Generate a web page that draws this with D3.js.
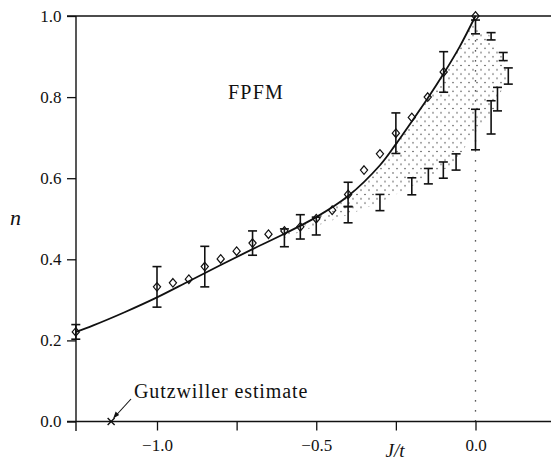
<!DOCTYPE html>
<html>
<head>
<meta charset="utf-8">
<script src="https://cdn.jsdelivr.net/npm/d3@7"></script>
<style>
  body { margin: 0; background: #fff; }
</style>
</head>
<body>
<div id="chart"></div>
<script>
// n versus J/t phase diagram, with FPFM region shaded

const serif = "'Liberation Serif', 'DejaVu Serif', 'Times New Roman', serif";

// smooth curve through the diamonds
const curveJ = [-1.255, -1.2, -1.1, -1.0, -0.9, -0.8, -0.7, -0.6, -0.5, -0.4, -0.3, -0.25, -0.2, -0.15, -0.1, -0.05, 0.0];
const curveN = [0.221, 0.237, 0.270, 0.306, 0.346, 0.386, 0.425, 0.463, 0.504, 0.556, 0.632, 0.684, 0.740, 0.797, 0.858, 0.924, 1.0];

// diamonds (0 = no error bar)
const diamondJ = [-1.255, -1.0, -0.95, -0.9, -0.85, -0.8, -0.75, -0.7, -0.65, -0.6, -0.55, -0.5, -0.45, -0.4, -0.35, -0.3, -0.25, -0.2, -0.15, -0.1, 0.0];
const diamondN = [0.221, 0.332, 0.342, 0.351, 0.382, 0.401, 0.420, 0.440, 0.462, 0.470, 0.480, 0.500, 0.521, 0.560, 0.620, 0.660, 0.711, 0.750, 0.800, 0.862, 1.0];
const diamondErr = [0.018, 0.05, 0, 0, 0.05, 0, 0, 0.03, 0, 0, 0.03, 0, 0, 0.03, 0, 0, 0.05, 0, 0, 0.05, 0];

// lower boundary points (error bars only), listed along the edge of the shaded area
const lowerJ = [0.0, 0.049, 0.087, 0.103, 0.069, 0.049, 0.0, -0.061, -0.101, -0.148, -0.2, -0.3, -0.4, -0.5, -0.6];
const lowerN = [0.973, 0.95, 0.90, 0.852, 0.795, 0.75, 0.72, 0.64, 0.62, 0.605, 0.58, 0.54, 0.51, 0.482, 0.453];
const lowerErr = [0.017, 0.009, 0.01, 0.02, 0.029, 0.041, 0.05, 0.02, 0.02, 0.019, 0.021, 0.02, 0.02, 0.022, 0.022];

const gutzJ = -1.144;

const xTicks = [-1.0, -0.75, -0.5, -0.25, 0.0];
const xLabels = [-1.0, -0.5, 0.0];
const yTicks = [0, 0.2, 0.4, 0.6, 0.8, 1.0];

const width = 551;
const height = 461;

const x = d3.scaleLinear().domain([-1.0, 0.0]).range([157, 475.5]);
const y = d3.scaleLinear().domain([0, 1]).range([421.5, 16]);

const svg = d3.select("#chart").append("svg")
    .attr("width", width)
    .attr("height", height)
    .style("font-family", serif);

// dot pattern for the shaded region
const pat = svg.append("defs").append("pattern")
    .attr("id", "dots")
    .attr("patternUnits", "userSpaceOnUse")
    .attr("width", 8).attr("height", 8.6);
pat.append("circle").attr("cx", 1).attr("cy", 1).attr("r", 0.7).attr("fill", "#222");
pat.append("circle").attr("cx", 5).attr("cy", 5.3).attr("r", 0.7).attr("fill", "#222");

// shaded area: curve from -0.6 up to 0, then back along the lower points
const shadePts = [];
curveJ.forEach((j, i) => { if (j >= -0.6) shadePts.push([x(j), y(curveN[i])]); });
lowerJ.forEach((j, i) => shadePts.push([x(j), y(lowerN[i])]));
svg.append("path")
    .attr("d", d3.line().curve(d3.curveLinearClosed)(shadePts))
    .attr("fill", "url(#dots)")
    .attr("stroke", "none");

// dotted line at J = 0
svg.append("line")
    .attr("x1", x(0)).attr("x2", x(0))
    .attr("y1", y(0)).attr("y2", y(1))
    .attr("stroke", "#222").attr("stroke-width", 1.3)
    .attr("stroke-dasharray", "1.3 8.7");

// axes
const xAxis = svg.append("g")
    .attr("transform", `translate(0,${y(0)})`)
    .call(d3.axisBottom(x).tickValues(xTicks).tickSize(9).tickSizeOuter(0)
        .tickFormat(d => xLabels.includes(d) ? d3.format(".1f")(d).replace("-", "\u2212") : ""));
xAxis.attr("font-family", null);
xAxis.select(".domain").remove();
xAxis.selectAll("line").attr("stroke", "#111").attr("stroke-width", 1.3);
xAxis.selectAll("text").attr("font-size", 17).style("font-family", serif).attr("fill", "#111").attr("dy", "1.0em");

const yAxis = svg.append("g")
    .attr("transform", "translate(76,0)")
    .call(d3.axisLeft(y).tickValues(yTicks).tickSize(9).tickSizeOuter(0).tickFormat(d3.format(".1f")));
yAxis.attr("font-family", null);
yAxis.select(".domain").remove();
yAxis.selectAll("line").attr("stroke", "#111").attr("stroke-width", 1.3);
yAxis.selectAll("text").attr("font-size", 17).style("font-family", serif).attr("fill", "#111").attr("dx", "-0.15em");

// frame lines: left spine, bottom and top (n = 1)
svg.append("line").attr("x1", 76).attr("x2", 76).attr("y1", y(1)).attr("y2", 431)
    .attr("stroke", "#111").attr("stroke-width", 1.4);
svg.append("line").attr("x1", 67).attr("x2", width).attr("y1", y(0)).attr("y2", y(0))
    .attr("stroke", "#111").attr("stroke-width", 1.4);
svg.append("line").attr("x1", 67).attr("x2", width).attr("y1", y(1)).attr("y2", y(1))
    .attr("stroke", "#111").attr("stroke-width", 1.4);

// curve
svg.append("path")
    .datum(curveJ.map((j, i) => [j, curveN[i]]))
    .attr("d", d3.line().x(d => x(d[0])).y(d => y(d[1])).curve(d3.curveCatmullRom))
    .attr("fill", "none").attr("stroke", "#111").attr("stroke-width", 1.8);

// error bar helper
function errorBars(js, ns, errs) {
    js.forEach((j, i) => {
        if (!errs[i]) return;
        const cx = x(j), top = y(ns[i] + errs[i]), bot = y(ns[i] - errs[i]);
        const g = svg.append("g").attr("stroke", "#111").attr("stroke-width", 1.6);
        g.append("line").attr("x1", cx).attr("x2", cx).attr("y1", top).attr("y2", bot);
        g.append("line").attr("x1", cx - 4.5).attr("x2", cx + 4.5).attr("y1", top).attr("y2", top);
        g.append("line").attr("x1", cx - 4.5).attr("x2", cx + 4.5).attr("y1", bot).attr("y2", bot);
    });
}
errorBars(lowerJ, lowerN, lowerErr);
errorBars(diamondJ, diamondN, diamondErr);

// diamonds
svg.selectAll(".dia")
    .data(diamondJ.map((j, i) => [j, diamondN[i]]))
    .join("path")
    .attr("class", "dia")
    .attr("d", d => `M${x(d[0])},${y(d[1]) - 4.3}l3.6,4.3l-3.6,4.3l-3.6,-4.3z`)
    .attr("fill", "none").attr("stroke", "#111").attr("stroke-width", 1.2);

// Gutzwiller estimate marker
const gx = x(gutzJ), gy = y(0);
svg.append("path")
    .attr("d", `M${gx - 3.5},${gy - 3.5}L${gx + 3.5},${gy + 3.5}M${gx - 3.5},${gy + 3.5}L${gx + 3.5},${gy - 3.5}`)
    .attr("stroke", "#111").attr("stroke-width", 1.4);
svg.append("line")
    .attr("x1", 131).attr("y1", 399).attr("x2", gx + 3).attr("y2", gy - 4)
    .attr("stroke", "#111").attr("stroke-width", 1.1);
svg.append("path")
    .attr("d", `M${gx + 2},${gy - 3}l2.5,-7l3.5,3.5z`)
    .attr("fill", "#111");
svg.append("text")
    .attr("x", 134).attr("y", 398)
    .attr("font-size", 20)
    .style("letter-spacing", "0.9px")
    .style("font-family", serif)
    .attr("fill", "#111")
    .text("Gutzwiller estimate");

// FPFM label
svg.append("text")
    .attr("x", 228).attr("y", 99)
    .attr("font-size", 20)
    .style("letter-spacing", "1.2px")
    .style("font-family", serif)
    .attr("fill", "#111")
    .text("FPFM");

// axis titles
svg.append("text")
    .attr("x", 395).attr("y", 457)
    .attr("text-anchor", "middle")
    .attr("font-size", 19)
    .style("font-family", serif)
    .style("font-style", "italic")
    .attr("fill", "#111")
    .text("J/t");
svg.append("text")
    .attr("x", 10).attr("y", 225)
    .attr("font-size", 22)
    .style("font-family", serif)
    .style("font-style", "italic")
    .attr("fill", "#111")
    .text("n");
</script>
</body>
</html>
